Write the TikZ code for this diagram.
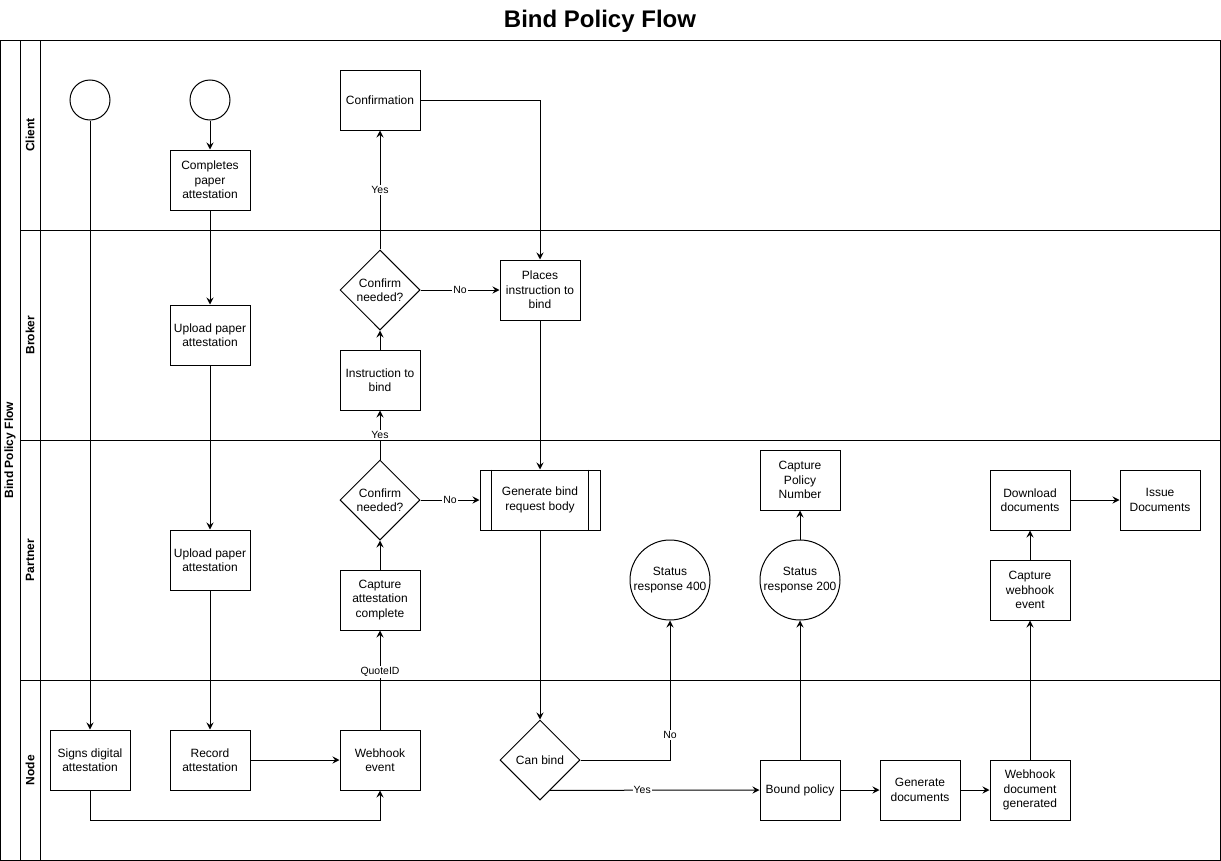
\documentclass[tikz,border=0pt]{standalone}
\usepackage{fontspec}
\setmainfont{Liberation Sans}
\usetikzlibrary{shapes.geometric,arrows.meta,calc}
\newcommand\myNF{\fontsize{12.05}{14.45}\selectfont}
\newcommand\myLF{\fontsize{10.5}{12.5}\selectfont}
\newcommand\myTF{\fontsize{24.1}{28}\selectfont\bfseries}
\begin{document}
\begin{tikzpicture}[x=1bp,y=-1bp,line width=1bp,
  box/.style={draw,fill=white,minimum width=80bp,minimum height=60bp,inner sep=0pt,align=center,font=\myNF},
  startc/.style={draw,fill=white,circle,minimum size=40bp,inner sep=0pt},
  statc/.style={draw,fill=white,circle,minimum size=80bp,inner sep=0pt},
  dia/.style={draw,fill=white,diamond,minimum width=80bp,minimum height=80bp,inner sep=0pt},
  intext/.style={font=\myNF,align=center,inner sep=0pt},
  lbl/.style={fill=white,inner sep=1bp,font=\myLF},
  lane/.style={rotate=90,font=\myNF\bfseries},
  arr/.style={-{Stealth[length=7bp,width=7bp,inset=2.5bp]}}]
\useasboundingbox (0,0) rectangle (1221,861);
% title
\node[font=\myTF] (title) at (600,21) {Bind Policy Flow};
% pool and lanes
\draw (0,40) rectangle (1220,860);
\draw (20,40) -- (20,860);
\draw (40,40) -- (40,860);
\draw (20,230) -- (1220,230);
\draw (20,440) -- (1220,440);
\draw (20,680) -- (1220,680);
\node[lane] (pool) at (10,450) {Bind Policy Flow};
\node[lane] (lclient) at (30,135) {Client};
\node[lane] (lbroker) at (30,335) {Broker};
\node[lane] (lpartner) at (30,560) {Partner};
\node[lane] (lnode) at (30,770) {Node};
% nodes
\node[startc] (s1) at (90,100) {};
\node[startc] (s2) at (210,100) {};
\node[box] (conf) at (380,100) {Confirmation};
\node[box] (comp) at (210,180) {Completes\\paper\\attestation};
\node[dia,label={[intext]center:Confirm\\needed?}] (cnb) at (380,290) {};
\node[box] (pl) at (540,290) {Places\\instruction to\\bind};
\node[box] (upb) at (210,335) {Upload paper\\attestation};
\node[box] (ins) at (380,380) {Instruction to\\bind};
\node[dia,label={[intext]center:Confirm\\needed?}] (cnp) at (380,500) {};
\node[box,minimum width=120bp] (gen) at (540,500) {Generate bind\\request body};
\draw ([xshift=12bp]gen.north west) -- ([xshift=12bp]gen.south west);
\draw ([xshift=-12bp]gen.north east) -- ([xshift=-12bp]gen.south east);
\node[box] (cpn) at (800,480) {Capture\\Policy\\Number};
\node[box] (dl) at (1030,500) {Download\\documents};
\node[box] (iss) at (1160,500) {Issue\\Documents};
\node[box] (upp) at (210,560) {Upload paper\\attestation};
\node[statc,label={[intext]center:Status\\response 400}] (s400) at (670,580) {};
\node[statc,label={[intext]center:Status\\response 200}] (s200) at (800,580) {};
\node[box] (cwe) at (1030,590) {Capture\\webhook\\event};
\node[box] (cap) at (380,600) {Capture\\attestation\\complete};
\node[box] (signs) at (90,760) {Signs digital\\attestation};
\node[box] (rec) at (210,760) {Record\\attestation};
\node[box] (webh) at (380,760) {Webhook\\event};
\node[dia,label={[intext]center:Can bind}] (canb) at (540,760) {};
\node[box] (bound) at (800,790) {Bound policy};
\node[box] (gdoc) at (920,790) {Generate\\documents};
\node[box] (wdg) at (1030,790) {Webhook\\document\\generated};
% edges
\draw[arr] (s1) -- (signs);
\draw[arr] (s2) -- (comp);
\draw[arr] (comp) -- (upb);
\draw[arr] (upb) -- (upp);
\draw[arr] (upp) -- (rec);
\draw[arr] (signs.south) -- ++(0,30) -| (webh.south);
\draw[arr] (rec) -- (webh);
\draw[arr] (webh) -- node[lbl,pos=0.58]{QuoteID} (cap);
\draw[arr] (cap) -- (cnp);
\draw[arr] (cnp) -- node[lbl]{No} (gen);
\draw[arr] (cnp) -- node[lbl]{Yes} (ins);
\draw[arr] (ins) -- (cnb);
\draw[arr] (cnb) -- node[lbl]{Yes} (conf);
\draw[arr] (cnb) -- node[lbl]{No} (pl);
\draw[arr] (conf.east) -| (pl.north);
\draw[arr] (pl) -- (gen);
\draw[arr] (gen) -- (canb);
\draw[arr] (canb.east) -| node[lbl,pos=0.59]{No} (s400.south);
\coordinate (cby) at ($(canb.south)!0.25!(canb.east)$);
\draw[arr] (cby) -- node[lbl,pos=0.44]{Yes} (bound.west);
\draw[arr] (bound) -- (s200);
\draw[arr] (s200) -- (cpn);
\draw[arr] (bound) -- (gdoc);
\draw[arr] (gdoc) -- (wdg);
\draw[arr] (wdg) -- (cwe);
\draw[arr] (cwe) -- (dl);
\draw[arr] (dl) -- (iss);
\end{tikzpicture}
\end{document}
